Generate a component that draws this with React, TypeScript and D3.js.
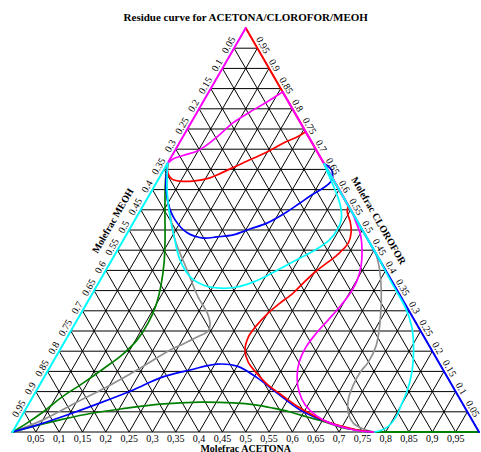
import React from 'react';
import * as d3 from 'd3';

// Ternary composition as [acetona, cloroformo]; metanol = 1 - acetona - cloroformo.
type P = [number, number];

const W = 481;
const H = 452;

const title = 'Residue curve for ACETONA/CLOROFOR/MEOH';
const axisBottom = 'Molefrac ACETONA';
const axisLeft = 'Molefrac MEOH';
const axisRight = 'Molefrac CLOROFOR';

const tickValues = [0.05, 0.1, 0.15, 0.2, 0.25, 0.3, 0.35, 0.4, 0.45, 0.5, 0.55, 0.6, 0.65, 0.7, 0.75, 0.8, 0.85, 0.9, 0.95];
const bottomTickLabels = ['0,05', '0,1', '0,15', '0,2', '0,25', '0,3', '0,35', '0,4', '0,45', '0,5', '0,55', '0,6', '0,65', '0,7', '0,75', '0,8', '0,85', '0,9', '0,95'];
const sideTickLabels = ['0.05', '0.1', '0.15', '0.2', '0.25', '0.3', '0.35', '0.4', '0.45', '0.5', '0.55', '0.6', '0.65', '0.7', '0.75', '0.8', '0.85', '0.9', '0.95'];

// Residue curves
const magentaUpper: P[] = [[0, 0.665], [0.006, 0.676], [0.025, 0.685], [0.05, 0.697], [0.073, 0.73], [0.09, 0.765], [0.113, 0.792], [0.137, 0.817], [0.152, 0.834], [0.158, 0.842]];
const magentaLower: P[] = [[0.46, 0.54], [0.472, 0.525], [0.502, 0.488], [0.524, 0.4505], [0.541, 0.413], [0.551, 0.376], [0.552, 0.344], [0.547, 0.312], [0.538, 0.277], [0.529, 0.245], [0.524, 0.21], [0.528, 0.173], [0.542, 0.136], [0.565, 0.099], [0.594, 0.067], [0.632, 0.04], [0.67, 0.022], [0.709, 0.01], [0.744, 0.0025], [0.776, 0]];
const redUpper: P[] = [[0, 0.665], [0.014, 0.639], [0.029, 0.626], [0.0485, 0.621], [0.076, 0.621], [0.109, 0.629], [0.12, 0.636], [0.161, 0.666], [0.199, 0.693], [0.2225, 0.715], [0.245, 0.73], [0.257, 0.743]];
const redLower: P[] = [[0.44, 0.56], [0.4453, 0.5446], [0.464, 0.52], [0.4785, 0.495], [0.486, 0.468], [0.479, 0.443], [0.4665, 0.421], [0.452, 0.3985], [0.4397, 0.371], [0.4296, 0.344], [0.414, 0.319], [0.401, 0.295], [0.391, 0.262], [0.388, 0.235], [0.397, 0.203], [0.4187, 0.173], [0.4528, 0.144], [0.49, 0.116], [0.527, 0.094], [0.5727, 0.067], [0.616, 0.045], [0.657, 0.027], [0.695, 0.015], [0.737, 0.005], [0.776, 0]];
const blueUpper: P[] = [[0, 0.665], [0.0208, 0.616], [0.05, 0.567], [0.086, 0.525], [0.128, 0.493], [0.1685, 0.48], [0.197, 0.483], [0.229, 0.488], [0.258, 0.5025], [0.287, 0.517], [0.3135, 0.542], [0.333, 0.567], [0.35, 0.589], [0.364, 0.604], [0.3725, 0.621], [0.3635, 0.644], [0.3474, 0.658], [0.337, 0.663]];
const blueLower: P[] = [[0, 0], [0.0439, 0.017], [0.0959, 0.042], [0.152, 0.072], [0.2066, 0.104], [0.2496, 0.134], [0.304, 0.1535], [0.3545, 0.168], [0.4, 0.163], [0.4577, 0.134], [0.519, 0.0965], [0.5897, 0.0545], [0.67, 0.022], [0.7325, 0.005], [0.776, 0]];
const cyanUpper: P[] = [[0, 0.665], [0.0318, 0.599], [0.0717, 0.532], [0.105, 0.483], [0.146, 0.426], [0.189, 0.384], [0.2266, 0.364], [0.267, 0.356], [0.302, 0.359], [0.33, 0.371], [0.357, 0.391], [0.379, 0.411], [0.4013, 0.431], [0.4236, 0.4505], [0.4414, 0.475], [0.446, 0.5], [0.4423, 0.525], [0.4298, 0.5495], [0.4086, 0.579], [0.3818, 0.611], [0.3528, 0.644], [0.337, 0.663]];
const cyanLower: P[] = [[0.58, 0.42], [0.6333, 0.364], [0.6873, 0.309], [0.7225, 0.265], [0.748, 0.223], [0.77, 0.178], [0.7845, 0.141], [0.7946, 0.104], [0.8, 0.067], [0.8034, 0.035], [0.7974, 0.012], [0.785, 0.0025], [0.776, 0]];
const grayLeft: P[] = [[0, 0.665], [0.038, 0.587], [0.0775, 0.525], [0.111, 0.475], [0.1738, 0.401], [0.2309, 0.334], [0.27, 0.295], [0.29, 0.267], [0.2944, 0.25], [0.2783, 0.235], [0.2569, 0.218], [0.2365, 0.203], [0.1944, 0.158], [0.151, 0.116], [0.1013, 0.074], [0.0506, 0.03], [0, 0]];
const grayRight: P[] = [[0.54, 0.46], [0.5607, 0.438], [0.5833, 0.406], [0.6148, 0.3515], [0.6498, 0.277], [0.6723, 0.215], [0.6762, 0.173], [0.6714, 0.1485], [0.6725, 0.116], [0.68, 0.079], [0.6963, 0.047], [0.7195, 0.022], [0.7484, 0.0074], [0.776, 0]];
const greenLeft: P[] = [[0, 0.665], [0.016, 0.624], [0.052, 0.5495], [0.0895, 0.475], [0.1146, 0.421], [0.1365, 0.364], [0.1506, 0.314], [0.1558, 0.27], [0.1532, 0.228], [0.1395, 0.191], [0.1161, 0.156], [0.0906, 0.121], [0.0629, 0.087], [0.0407, 0.0495], [0.02, 0.022], [0, 0]];
const greenLower: P[] = [[0, 0], [0.0409, 0.015], [0.0871, 0.03], [0.149, 0.047], [0.216, 0.059], [0.2818, 0.069], [0.3652, 0.074], [0.4373, 0.072], [0.487, 0.067], [0.529, 0.059], [0.5707, 0.0495], [0.6134, 0.037], [0.658, 0.025], [0.6966, 0.012], [0.737, 0.005], [0.776, 0]];

// Residue curve segments running along the binary edges
const leftEdgeCyan: P[] = [[0, 0], [0, 0.665]];
const leftEdgeMagenta: P[] = [[0, 0.665], [0, 1]];
const rightEdgeRed: P[] = [[0, 1], [0.44, 0.56]];
const rightEdgeMagenta: P[] = [[0.158, 0.842], [0.46, 0.54]];
const rightEdgeBlue: P[] = [[0.337, 0.663], [1, 0]];
const rightEdgeCyan: P[] = [[0.337, 0.663], [0.58, 0.42]];
const bottomEdgeGreen: P[] = [[0.776, 0], [1, 0]];

const GRAY = '#909090';
const GREEN = '#008000';
const BLUE = '#0000ff';
const RED = '#ff0000';
const MAGENTA = '#ff00ff';
const CYAN = '#00ffff';

const CW = 1.7;
const EW = 2;

const curves: { pts: P[]; color: string; smooth: boolean; w: number }[] = [
  { pts: grayLeft, color: GRAY, smooth: true, w: CW },
  { pts: grayRight, color: GRAY, smooth: true, w: CW },
  { pts: greenLeft, color: GREEN, smooth: true, w: CW },
  { pts: greenLower, color: GREEN, smooth: true, w: CW },
  { pts: bottomEdgeGreen, color: GREEN, smooth: false, w: EW },
  { pts: blueUpper, color: BLUE, smooth: true, w: CW },
  { pts: blueLower, color: BLUE, smooth: true, w: CW },
  { pts: rightEdgeBlue, color: BLUE, smooth: false, w: EW },
  { pts: redUpper, color: RED, smooth: true, w: CW },
  { pts: redLower, color: RED, smooth: true, w: CW },
  { pts: rightEdgeRed, color: RED, smooth: false, w: EW },
  { pts: magentaUpper, color: MAGENTA, smooth: true, w: CW },
  { pts: magentaLower, color: MAGENTA, smooth: true, w: CW },
  { pts: rightEdgeMagenta, color: MAGENTA, smooth: false, w: EW },
  { pts: leftEdgeMagenta, color: MAGENTA, smooth: false, w: EW },
  { pts: cyanUpper, color: CYAN, smooth: true, w: CW },
  { pts: cyanLower, color: CYAN, smooth: true, w: CW },
  { pts: rightEdgeCyan, color: CYAN, smooth: false, w: EW },
  { pts: leftEdgeCyan, color: CYAN, smooth: false, w: EW },
];

const xScale = d3.scaleLinear().domain([0, 1]).range([12.5, 479]);
const yScale = d3.scaleLinear().domain([0, 1]).range([432, 28]);
const proj = ([a, c]: P): [number, number] => [xScale(a + c / 2), yScale(c)];

const smoothLine = d3
  .line<P>()
  .x((p) => proj(p)[0])
  .y((p) => proj(p)[1])
  .curve(d3.curveCatmullRom.alpha(0.5));
const straightLine = d3
  .line<P>()
  .x((p) => proj(p)[0])
  .y((p) => proj(p)[1]);

const FONT = "'Liberation Serif', 'Times New Roman', serif";
const C60 = Math.cos(Math.PI / 3);
const S60 = Math.sin(Math.PI / 3);

export default function App() {
  const grid: P[][] = [];
  tickValues.forEach((t) => {
    grid.push([[0, t], [1 - t, t]]);
    grid.push([[t, 0], [t, 1 - t]]);
    grid.push([[1 - t, 0], [0, 1 - t]]);
  });
  const outline: P[] = [[0, 0], [1, 0], [0, 1], [0, 0]];

  const off = 6.5;
  const titleOff = 19;
  const leftMid = proj([0, 0.5]);
  const rightMid = proj([0.5, 0.5]);

  return (
    <svg
      width={W}
      height={H}
      style={{ position: 'absolute', left: 0, top: 0, display: 'block', background: '#fff' }}
      fontFamily={FONT}
    >
      <text x={xScale(0.5)} y={21} textAnchor="middle" fontSize={11} fontWeight="bold">
        {title}
      </text>

      <g stroke="#000" strokeWidth={1} fill="none">
        {grid.map((seg, i) => (
          <path key={i} d={straightLine(seg) || ''} />
        ))}
        <path d={straightLine(outline) || ''} />
      </g>

      <g fill="none" strokeLinejoin="round" strokeLinecap="round">
        {curves.map((c, i) => (
          <path
            key={i}
            d={(c.smooth ? smoothLine(c.pts) : straightLine(c.pts)) || ''}
            stroke={c.color}
            strokeWidth={c.w}
          />
        ))}
      </g>

      <g fontSize={10} textAnchor="middle">
        {tickValues.map((t, i) => (
          <text key={'b' + i} x={xScale(t)} y={442}>
            {bottomTickLabels[i]}
          </text>
        ))}
        {tickValues.map((m, i) => {
          const [px, py] = proj([0, 1 - m]);
          const x = px - off * S60;
          const y = py - off * C60;
          return (
            <text key={'l' + i} x={x} y={y} dy="0.35em" transform={`rotate(-60 ${x} ${y})`}>
              {sideTickLabels[i]}
            </text>
          );
        })}
        {tickValues.map((c, i) => {
          const [px, py] = proj([1 - c, c]);
          const x = px + off * S60;
          const y = py - off * C60;
          return (
            <text key={'r' + i} x={x} y={y} dy="0.35em" transform={`rotate(60 ${x} ${y})`}>
              {sideTickLabels[i]}
            </text>
          );
        })}
      </g>

      <g fontSize={10} fontWeight="bold" textAnchor="middle">
        <text x={xScale(0.5)} y={H - 0.5}>
          {axisBottom}
        </text>
        {(() => {
          const x = leftMid[0] - titleOff * S60;
          const y = leftMid[1] - titleOff * C60;
          return (
            <text x={x} y={y} dy="0.35em" transform={`rotate(-60 ${x} ${y})`}>
              {axisLeft}
            </text>
          );
        })()}
        {(() => {
          const x = rightMid[0] + titleOff * S60;
          const y = rightMid[1] - titleOff * C60;
          return (
            <text x={x} y={y} dy="0.35em" transform={`rotate(60 ${x} ${y})`}>
              {axisRight}
            </text>
          );
        })()}
      </g>
    </svg>
  );
}
